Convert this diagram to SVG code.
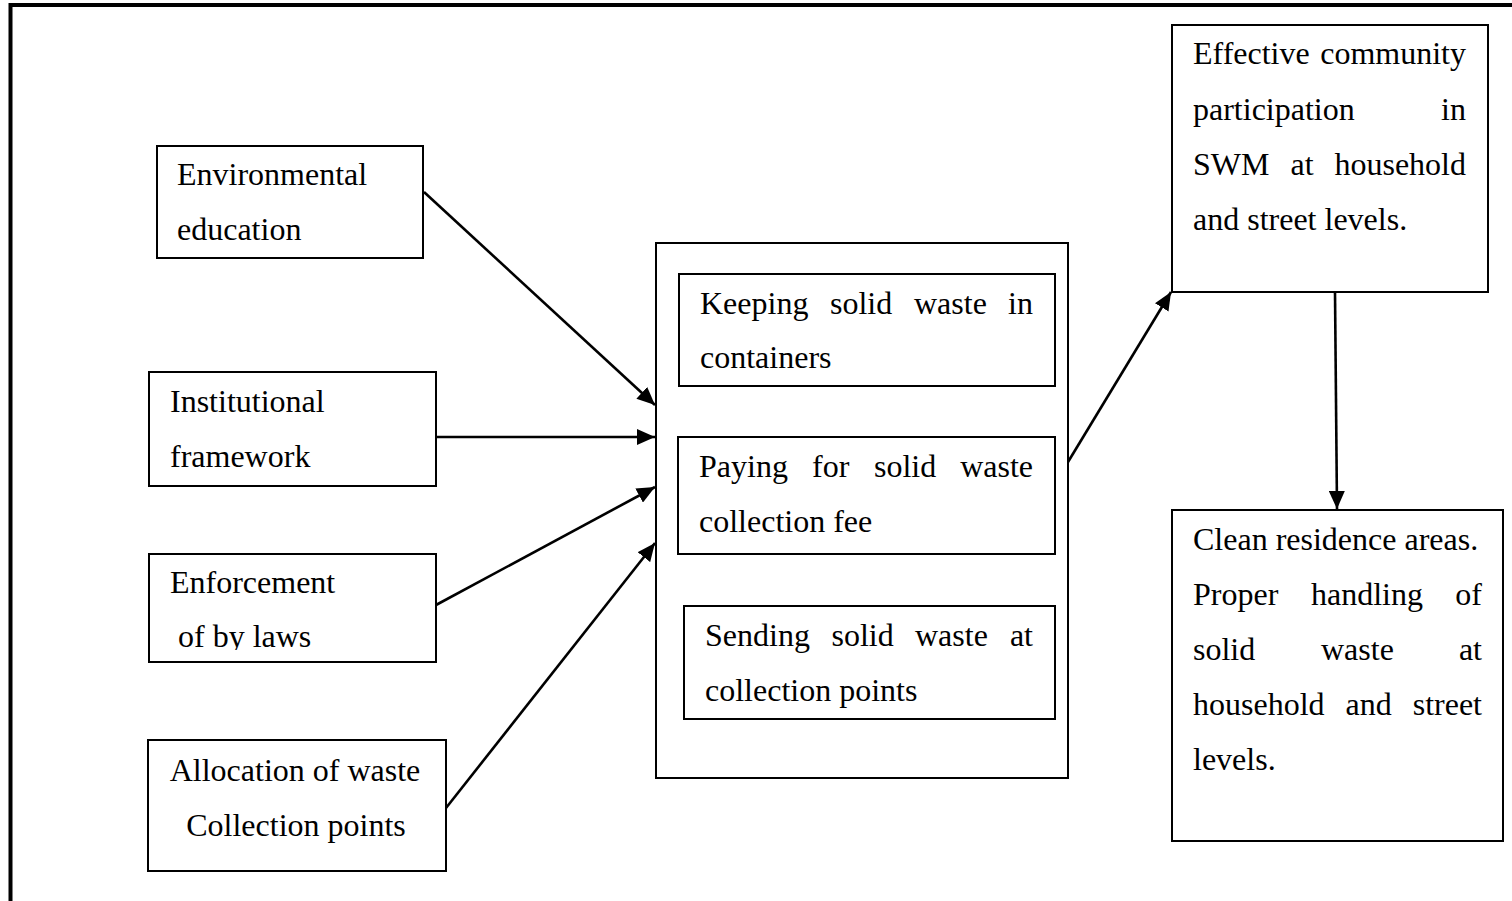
<svg xmlns="http://www.w3.org/2000/svg" width="1512" height="901" viewBox="0 0 1512 901">
<style>
.box{fill:#fff;stroke:#000;stroke-width:2}
.t{font-family:"Liberation Serif","Times New Roman",serif;font-size:32px;fill:#000}
.e{text-anchor:end}
.m{text-anchor:middle}
.c{stroke:#000;stroke-width:2.6;fill:none}
</style>
<defs>
<marker id="ah" markerUnits="userSpaceOnUse" markerWidth="20" markerHeight="16" refX="18" refY="8" orient="auto">
<path d="M0,0 L18,8 L0,16 z" fill="#000"/>
</marker>
<clipPath id="enfclip"><rect x="150" y="555" width="285" height="95"/></clipPath>
</defs>
<rect width="1512" height="901" fill="#fff"/>
<path d="M10.5,901 V5 H1512" fill="none" stroke="#000" stroke-width="4"/>

<g id="env">
<rect class="box" x="157" y="146" width="266" height="112"/>
<text class="t" x="177" y="185">Environmental</text>
<text class="t" x="177" y="240">education</text>
</g>
<g id="inst">
<rect class="box" x="149" y="372" width="287" height="114"/>
<text class="t" x="170" y="412">Institutional</text>
<text class="t" x="170" y="467">framework</text>
</g>
<g id="enf">
<rect class="box" x="149" y="554" width="287" height="108"/>
<g clip-path="url(#enfclip)">
<text class="t" x="170" y="593">Enforcement</text>
<text class="t" x="178" y="647">of by laws</text>
</g>
</g>
<g id="alloc">
<rect class="box" x="148" y="740" width="298" height="131"/>
<text class="t m" x="295" y="781">Allocation of waste</text>
<text class="t m" x="296" y="836">Collection points</text>
</g>

<g id="central">
<rect class="box" x="656" y="243" width="412" height="535"/>
<g id="keeping">
<rect class="box" x="679" y="274" width="376" height="112"/>
<text class="t" y="314"><tspan x="700">Keeping</tspan><tspan x="830">solid</tspan><tspan x="914">waste</tspan></text>
<text class="t e" x="1033" y="314">in</text>
<text class="t" x="700" y="368">containers</text>
</g>
<g id="paying">
<rect class="box" x="678" y="437" width="377" height="117"/>
<text class="t" y="477"><tspan x="699">Paying</tspan><tspan x="812">for</tspan><tspan x="874">solid</tspan></text>
<text class="t e" x="1033" y="477">waste</text>
<text class="t" x="699" y="532">collection fee</text>
</g>
<g id="sending">
<rect class="box" x="684" y="606" width="371" height="113"/>
<text class="t" y="646"><tspan x="705">Sending</tspan><tspan x="831.5">solid</tspan><tspan x="915">waste</tspan></text>
<text class="t e" x="1033" y="646">at</text>
<text class="t" x="705" y="701">collection points</text>
</g>
</g>

<g id="effective">
<rect class="box" x="1172" y="25" width="316" height="267"/>
<text class="t" x="1193" y="64">Effective</text>
<text class="t e" x="1466" y="64">community</text>
<text class="t" x="1193" y="120">participation</text>
<text class="t e" x="1466" y="120">in</text>
<text class="t" y="175"><tspan x="1193">SWM</tspan><tspan x="1290.5">at</tspan></text>
<text class="t e" x="1466" y="175">household</text>
<text class="t" x="1193" y="230">and street levels.</text>
</g>

<g id="clean">
<rect class="box" x="1172" y="510" width="331" height="331"/>
<text class="t" x="1193" y="550">Clean residence areas.</text>
<text class="t" y="605"><tspan x="1193">Proper</tspan><tspan x="1311">handling</tspan></text>
<text class="t e" x="1482" y="605">of</text>
<text class="t" y="660"><tspan x="1193">solid</tspan><tspan x="1321">waste</tspan></text>
<text class="t e" x="1482" y="660">at</text>
<text class="t" y="715"><tspan x="1193">household</tspan><tspan x="1345.5">and</tspan></text>
<text class="t e" x="1482" y="715">street</text>
<text class="t" x="1193" y="770">levels.</text>
</g>

<g id="connectors">
<line class="c" x1="424" y1="192" x2="655" y2="405" marker-end="url(#ah)"/>
<line class="c" x1="436" y1="437" x2="655" y2="437" marker-end="url(#ah)"/>
<line class="c" x1="436" y1="605" x2="655" y2="487" marker-end="url(#ah)"/>
<line class="c" x1="446" y1="808" x2="655" y2="543" marker-end="url(#ah)"/>
<line class="c" x1="1068" y1="462" x2="1171" y2="292" marker-end="url(#ah)"/>
<line class="c" x1="1335" y1="292" x2="1337" y2="509" marker-end="url(#ah)"/>
</g>
</svg>
